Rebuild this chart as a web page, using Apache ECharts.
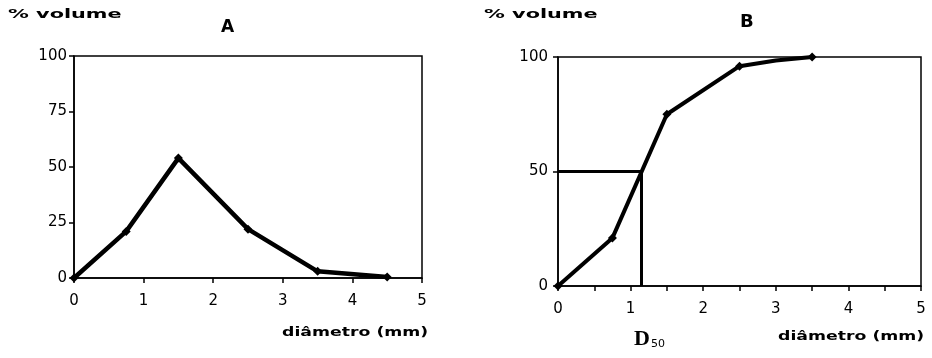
<!DOCTYPE html>
<html>
<head>
<meta charset="utf-8">
<script src="https://cdn.jsdelivr.net/npm/echarts@6/dist/echarts.min.js"></script>
<style>
html,body{margin:0;padding:0;background:#fff;}
#c{width:932px;height:358px;}
</style>
</head>
<body>
<div id="c"></div>
<script>
// Chart A: volume distribution
const diamA = [0, 0.75, 1.5, 2.5, 3.5, 4.5];
const volA = [0, 21, 54, 22, 3, 0.5];
// Chart B: cumulative volume
const diamB = [0, 0.75, 1.5, 2.5, 3, 3.5];
const volB = [0, 21, 75, 96, 98.5, 100];
// D50 marker
const d50 = 1.15;
const d50Level = 50;
const xTicks = [0, 1, 2, 3, 4, 5];
const yTicksA = [0, 25, 50, 75, 100];
const yTicksB = [0, 50, 100];
const yLabel = '% volume';
const xLabel = 'diâmetro (mm)';
const titles = ['A', 'B'];

const FONT = 'DejaVu Sans';
const chart = echarts.init(document.getElementById('c'), null, {renderer: 'canvas'});

function pairs(xs, ys) { return xs.map((x, i) => [x, ys[i]]); }

const axisLine = {show: true, lineStyle: {color: '#000', width: 1.5}};
const labelStyle = {color: '#000', fontFamily: FONT, fontSize: 15};

chart.setOption({
  backgroundColor: '#fff',
  animation: false,
  grid: [
    {left: 74, right: 510, top: 56, bottom: 80, show: true, borderColor: '#000', borderWidth: 1.5, containLabel: false},
    {left: 558, right: 11, top: 57, bottom: 72, show: true, borderColor: '#000', borderWidth: 1.5, containLabel: false}
  ],
  xAxis: [
    {type: 'value', gridIndex: 0, min: xTicks[0], max: xTicks[xTicks.length - 1], interval: 1,
     axisLine: axisLine, axisTick: {show: true, length: 5, lineStyle: {color: '#000', width: 1.5}},
     axisLabel: Object.assign({margin: 16}, labelStyle), splitLine: {show: false}},
    {type: 'value', gridIndex: 1, min: xTicks[0], max: xTicks[xTicks.length - 1], interval: 1,
     axisLine: axisLine, axisTick: {show: true, length: 5, lineStyle: {color: '#000', width: 1.5}},
     minorTick: {show: true, splitNumber: 2, length: 5, lineStyle: {color: '#000', width: 1.5}},
     axisLabel: Object.assign({margin: 16}, labelStyle), splitLine: {show: false}}
  ],
  yAxis: [
    {type: 'value', gridIndex: 0, min: yTicksA[0], max: yTicksA[yTicksA.length - 1], interval: 25,
     axisLine: axisLine, axisTick: {show: true, length: 5, lineStyle: {color: '#000', width: 1.5}},
     axisLabel: Object.assign({margin: 7}, labelStyle), splitLine: {show: false}},
    {type: 'value', gridIndex: 1, min: yTicksB[0], max: yTicksB[yTicksB.length - 1], interval: 50,
     axisLine: axisLine, axisTick: {show: true, length: 5, lineStyle: {color: '#000', width: 1.5}},
     axisLabel: Object.assign({margin: 10}, labelStyle), splitLine: {show: false}}
  ],
  series: [
    {type: 'line', xAxisIndex: 0, yAxisIndex: 0, data: pairs(diamA, volA),
     symbol: 'diamond', symbolSize: 9, showSymbol: true,
     lineStyle: {color: '#000', width: 4.5}, itemStyle: {color: '#000'}},
    {type: 'line', xAxisIndex: 1, yAxisIndex: 1, data: pairs(diamB, volB),
     symbol: 'diamond', symbolSize: function (v, p) { return p.dataIndex === 4 ? 0 : 9; }, showSymbol: true,
     lineStyle: {color: '#000', width: 4}, itemStyle: {color: '#000'}},
    {type: 'line', xAxisIndex: 1, yAxisIndex: 1,
     data: [[xTicks[0], d50Level], [d50, d50Level], [d50, yTicksB[0]]],
     symbol: 'none', lineStyle: {color: '#000', width: 3}}
  ],
  graphic: [
    {type: 'text', left: 8, top: 8, style: {text: yLabel, fontFamily: FONT, fontWeight: 'bold', fontSize: 13, fill: '#000'}, scaleX: 1.6},
    {type: 'text', left: 484, top: 8, style: {text: yLabel, fontFamily: FONT, fontWeight: 'bold', fontSize: 13, fill: '#000'}, scaleX: 1.6},
    {type: 'text', left: 221, top: 19, style: {text: titles[0], fontFamily: FONT, fontWeight: 'bold', fontSize: 17, fill: '#000'}},
    {type: 'text', left: 740, top: 13, style: {text: titles[1], fontFamily: FONT, fontWeight: 'bold', fontSize: 18, fill: '#000'}},
    {type: 'text', left: 282, top: 326, style: {text: xLabel, fontFamily: FONT, fontWeight: 'bold', fontSize: 13, fill: '#000'}, scaleX: 1.33},
    {type: 'text', left: 778, top: 330, style: {text: xLabel, fontFamily: FONT, fontWeight: 'bold', fontSize: 13, fill: '#000'}, scaleX: 1.33},
    {type: 'text', left: 634, top: 328, style: {
      text: 'D{s|50}', fontFamily: 'Liberation Serif', fontWeight: 'bold', fontSize: 22, fill: '#000',
      rich: {s: {fontSize: 11, fontFamily: FONT, verticalAlign: 'bottom', padding: [10, 0, 0, 1]}}}}
  ]
});
</script>
</body>
</html>
